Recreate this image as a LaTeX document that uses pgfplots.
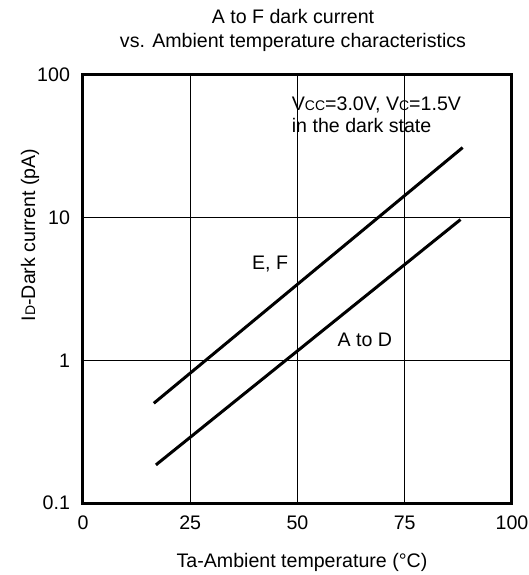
\documentclass[border=0pt]{standalone}
\usepackage{pgfplots}
\pgfplotsset{compat=1.18}
\usepackage{fontspec}
\setmainfont{Liberation Sans}
\newcommand{\sm}[1]{{\fontsize{7}{8}\selectfont #1}}
\begin{document}
\begin{tikzpicture}[font=\fontsize{9.8}{12}\selectfont]
\begin{axis}[
  scale only axis,
  width=214.5pt, height=214pt,
  at={(0,0)}, anchor=south west,
  xmin=0, xmax=100,
  ymode=log, ymin=0.1, ymax=100,
  xtick={0,25,50,75,100},
  xticklabels={0,25,50,75,100},
  ytick={0.1,1,10,100},
  yticklabels={0.1,1,10,100},
  minor ytick={}, yminorticks=false,
  major tick length=0pt,
  grid=major,
  major grid style={black, line width=0.7pt},
  axis line style={line width=1.5pt},
  xticklabel style={yshift=-3pt},
  yticklabel style={xshift=-3pt},
  ticklabel style={font=\fontsize{9.8}{12}\selectfont},
  clip=false,
]
\addplot[black, line width=1.5pt] coordinates {(16.5,0.5) (88.5,31)};
\addplot[black, line width=1.5pt] coordinates {(17,0.185) (88,9.7)};
\node[anchor=center, inner sep=0pt] at (axis cs:43.6,4.77) {E, F};
\node[anchor=center, inner sep=0pt] at (axis cs:65.7,1.40) {A to D};
\node[anchor=west, align=left, inner sep=0pt, font=\fontsize{9.8}{11}\selectfont] at (axis cs:48.6,52.5) {V\sm{CC}=3.0V, V\sm{C}=1.5V\\in the dark state};
\end{axis}
\node[align=center, font=\fontsize{9.8}{12}\selectfont] at (105pt,236.5pt) {A to F dark current\\vs. Ambient temperature characteristics};
\node at (109.5pt,-29.5pt) {Ta-Ambient temperature (°C)};
\node[rotate=90] at (-26.5pt,134pt) {I\sm{D}-Dark current (pA)};
\pgfresetboundingbox
\path[use as bounding box] (-41.5pt,-36pt) rectangle (223pt,251.5pt);
\end{tikzpicture}
\end{document}
